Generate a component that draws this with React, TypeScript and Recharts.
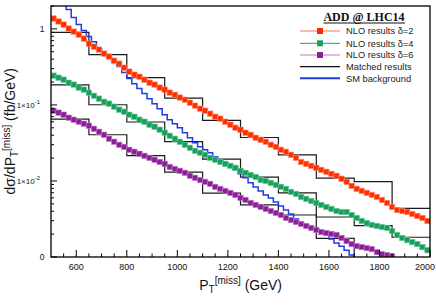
import React from 'react';
import { LineChart, Line, XAxis, YAxis } from 'recharts';

// pT(miss) bin centres, GeV
const ptBins = [
  510, 530, 550, 570, 590, 610, 630, 650, 670, 690, 710, 730, 750, 770, 790,
  810, 830, 850, 870, 890, 910, 930, 950, 970, 990, 1010, 1030, 1050, 1070, 1090,
  1110, 1130, 1150, 1170, 1190, 1210, 1230, 1250, 1270, 1290, 1310, 1330, 1350, 1370, 1390,
  1410, 1430, 1450, 1470, 1490, 1510, 1530, 1550, 1570, 1590, 1610, 1630, 1650, 1670, 1690,
  1710, 1730, 1750, 1770, 1790, 1810, 1830, 1850, 1870, 1890, 1910, 1930, 1950, 1970, 1990,
];

// NLO results, fb/GeV
const nloDelta2 = [
  1.37, 1.25, 1.14, 1.01, 0.921, 0.841, 0.745, 0.64, 0.584, 0.534, 0.473, 0.432, 0.382, 0.349, 0.309,
  0.274, 0.25, 0.235, 0.215, 0.196, 0.185, 0.169, 0.159, 0.145, 0.136, 0.125, 0.117, 0.107, 0.0978, 0.0893,
  0.084, 0.0767, 0.07, 0.0659, 0.0602, 0.0549, 0.0501, 0.0472, 0.0431, 0.0405, 0.037, 0.0348, 0.0328, 0.0299, 0.0281,
  0.0257, 0.0242, 0.0221, 0.0201, 0.0178, 0.0168, 0.0158, 0.0149, 0.014, 0.0132, 0.0124, 0.0117, 0.0107, 0.00973, 0.00862,
  0.00787, 0.0074, 0.00697, 0.00656, 0.00617, 0.00563, 0.00514, 0.00455, 0.00416, 0.00403, 0.00391, 0.00368, 0.00347, 0.00326, 0.00298,
];
const nloDelta4 = [
  0.243, 0.228, 0.215, 0.196, 0.185, 0.169, 0.159, 0.145, 0.132, 0.121, 0.11, 0.104, 0.0949, 0.0866, 0.0815,
  0.0744, 0.07, 0.0639, 0.0602, 0.0549, 0.0517, 0.0472, 0.0431, 0.0393, 0.0359, 0.0328, 0.0299, 0.0273, 0.0249, 0.0235,
  0.0221, 0.0201, 0.019, 0.0178, 0.0168, 0.0158, 0.0149, 0.0136, 0.0128, 0.012, 0.0113, 0.0103, 0.01, 0.00944, 0.00888,
  0.00836, 0.00787, 0.00718, 0.00676, 0.00617, 0.00581, 0.00546, 0.00514, 0.00484, 0.00455, 0.00429, 0.00403, 0.00391, 0.00391, 0.00357,
  0.00326, 0.00298, 0.0028, 0.00264, 0.00256, 0.00248, 0.00241, 0.0022, 0.00195, 0.00178, 0.00167, 0.00157, 0.00148, 0.00135, 0.00123,
];
const nloDelta6 = [
  0.084, 0.0791, 0.0744, 0.0679, 0.0639, 0.0602, 0.0566, 0.0533, 0.0486, 0.0444, 0.0405, 0.0359, 0.0328, 0.0299, 0.0281,
  0.0257, 0.0242, 0.0228, 0.0214, 0.0201, 0.019, 0.0178, 0.0168, 0.0153, 0.0144, 0.0136, 0.0128, 0.0117, 0.011, 0.0103,
  0.00973, 0.00916, 0.00836, 0.00787, 0.0074, 0.00697, 0.00656, 0.00599, 0.00563, 0.00514, 0.00484, 0.00455, 0.00429, 0.00403, 0.0038,
  0.00357, 0.00326, 0.00307, 0.00289, 0.00272, 0.00256, 0.00241, 0.00227, 0.00213, 0.00207, 0.00201, 0.00195, 0.00178, 0.00162, 0.00148,
  0.00139, 0.00135, 0.00131, 0.00127, 0.00116, 0.00109, 0.00106, 0.00103, null, null, null, null, null, null, null,
];
const smBackground = [
  3.29, 2.58, 2.15, 1.8, 1.41, 1.14, 0.95, 0.792, 0.68, 0.55, 0.473, 0.419, 0.371, 0.319, 0.266,
  0.222, 0.19, 0.164, 0.141, 0.121, 0.104, 0.0893, 0.0744, 0.0639, 0.0566, 0.0501, 0.0431, 0.037, 0.0318, 0.0281,
  0.0257, 0.0235, 0.0208, 0.019, 0.0173, 0.0158, 0.014, 0.0124, 0.011, 0.00944, 0.00836, 0.0074, 0.00656, 0.00599, 0.0053,
  0.00469, 0.00416, 0.00368, 0.00317, 0.0028, 0.00264, 0.00248, 0.00234, 0.0022, 0.00195, 0.00172, 0.00153, 0.00139, 0.00123, 0.00106,
  0.0009, null, null, null, null, null, null, null, null, null, null, null, null, null, null,
];

// matched results, 150 GeV bins
const matchedEdges = [500, 650, 800, 950, 1100, 1250, 1400, 1550, 1700, 1850, 2000];
const matchedDelta2 = [0.9, 0.458, 0.228, 0.123, 0.0625, 0.0373, 0.0221, 0.0109, 0.0098, 0.00435];
const matchedDelta4 = [0.184, 0.1006, 0.0596, 0.033, 0.0194, 0.0112, 0.00698, 0.00336, 0.00258, 0.00182];
const matchedDelta6 = [0.0652, 0.0405, 0.0216, 0.0131, 0.0069, 0.00484, 0.00357, 0.00176, 0.0005, 0.0005];

const xTicks = [
  550, 600, 650, 700, 750, 800, 850, 900, 950, 1000, 1050, 1100, 1150, 1200, 1250, 1300,
  1350, 1400, 1450, 1500, 1550, 1600, 1650, 1700, 1750, 1800, 1850, 1900, 1950, 2000,
];
const yMajorTicks = [0.001, 0.01, 0.1, 1];
const yMajorLabels = ['0', '1×10^-2', '1×10^-1', '1'];
const yMinorTicks = [
  0.002, 0.003, 0.004, 0.005, 0.006, 0.007, 0.008, 0.009,
  0.02, 0.03, 0.04, 0.05, 0.06, 0.07, 0.08, 0.09,
  0.2, 0.3, 0.4, 0.5, 0.6, 0.7, 0.8, 0.9, 2,
];

const SANS = '"Liberation Sans", Arial, Helvetica, sans-serif';

const toPoints = (ys: (number | null)[]) => ptBins.map((x, i) => ({ x, y: ys[i] }));
const toSteps = (ys: number[]) =>
  matchedEdges.map((x, i) => ({ x, y: ys[Math.min(i, ys.length - 1)] }));

const squareDot = (fill: string, edge: string) => (props: any) => {
  const { cx, cy, index } = props;
  if (cx == null || cy == null || Number.isNaN(cy) || props.payload?.y == null) return <g key={`d${index}`} />;
  return (
    <rect key={`d${index}`} x={cx - 2.7} y={cy - 2.7} width={5.4} height={5.4} fill={fill} stroke={edge} strokeWidth={0.6} />
  );
};

const XTick = (props: any) => {
  const { x, y, payload } = props;
  const major = payload.value % 200 === 0;
  const last = payload.value === 2000;
  return (
    <g>
      <line x1={x} x2={x} y1={y} y2={y - (major ? 7 : 3.5)} stroke="#000" strokeWidth={1} />
      {major && (
        <text
          x={last ? 435 : x}
          y={y + 13}
          textAnchor={last ? 'end' : 'middle'}
          fontSize={9}
          fontFamily={SANS}
          fill="#111"
        >
          {payload.value}
        </text>
      )}
    </g>
  );
};

const YTick = (props: any) => {
  const { x, y, payload } = props;
  const idx = yMajorTicks.indexOf(payload.value);
  const major = idx >= 0;
  let label: React.ReactNode = null;
  if (major) {
    const [base, exp] = yMajorLabels[idx].split('^');
    label = exp ? (
      <text x={x - 11} y={y + 3} textAnchor="end" fontSize={8} fontFamily={SANS} fill="#111">
        {base}
        <tspan dy={-3.5} fontSize={6}>{exp}</tspan>
      </text>
    ) : (
      <text x={x - 6.5} y={y + 3} textAnchor="end" fontSize={8.5} fontFamily={SANS} fill="#111">
        {base}
      </text>
    );
  }
  return (
    <g>
      <line x1={x} x2={x + (major ? 6 : 3)} y1={y} y2={y} stroke="#000" strokeWidth={1} />
      {label}
    </g>
  );
};

const legendRows = [
  { label: 'NLO results δ=2', line: '#f6a28c', square: '#ff2a00', width: 1.5 },
  { label: 'NLO results δ=4', line: '#3dbd7d', square: '#15a05c', width: 1.2 },
  { label: 'NLO results δ=6', line: '#d7a3d7', square: '#8c1e99', width: 1.5 },
  { label: 'Matched results', line: '#111', square: null, width: 1.2 },
  { label: 'SM background', line: '#1d3de8', square: null, width: 2 },
];
const legendY = [31, 43.3, 55, 66.7, 78.3];

export default function App() {
  return (
    <div style={{ position: 'absolute', left: 0, top: 0, width: 436, height: 308, background: '#fff' }}>
      <LineChart width={436} height={308} margin={{ top: 6, right: 6, bottom: 0, left: 0 }}>
        <XAxis
          type="number"
          dataKey="x"
          domain={[500, 2000]}
          ticks={xTicks}
          interval={0}
          height={51}
          tickSize={0}
          tickMargin={0}
          tickLine={false}
          axisLine={false}
          tick={XTick}
          allowDataOverflow
        />
        <YAxis
          type="number"
          scale="log"
          domain={[0.001, 2]}
          ticks={[...yMajorTicks, ...yMinorTicks]}
          interval={0}
          width={51}
          tickSize={0}
          tickMargin={0}
          tickLine={false}
          axisLine={false}
          tick={YTick}
          allowDataOverflow
        />
        <Line data={toPoints(nloDelta2)} dataKey="y" stroke="#f6a28c" strokeWidth={1} dot={squareDot('#ff3000', '#ff8a70')} isAnimationActive={false} />
        <Line data={toPoints(nloDelta4)} dataKey="y" stroke="#3dbd7d" strokeWidth={1} dot={squareDot('#17a05c', '#70c99c')} isAnimationActive={false} />
        <Line data={toPoints(nloDelta6)} dataKey="y" stroke="#d7a3d7" strokeWidth={1} dot={squareDot('#8c1e99', '#c080c8')} isAnimationActive={false} />
        <Line data={toSteps(matchedDelta2)} dataKey="y" type="stepAfter" stroke="#1a1a1a" strokeWidth={1.2} dot={false} isAnimationActive={false} />
        <Line data={toSteps(matchedDelta4)} dataKey="y" type="stepAfter" stroke="#1a1a1a" strokeWidth={1.2} dot={false} isAnimationActive={false} />
        <Line data={toSteps(matchedDelta6)} dataKey="y" type="stepAfter" stroke="#1a1a1a" strokeWidth={1.2} dot={false} isAnimationActive={false} />
        <Line data={toPoints(smBackground)} dataKey="y" type="step" stroke="#1d3de8" strokeWidth={1.5} dot={false} isAnimationActive={false} />
      </LineChart>

      <svg width={436} height={308} style={{ position: 'absolute', left: 0, top: 0, pointerEvents: 'none' }}>
        <rect x={51} y={6} width={379} height={251} fill="none" stroke="#000" strokeWidth={1.3} />

        <text x={364} y={21} textAnchor="middle" fontSize={12} fontWeight="bold" fontFamily='"Liberation Serif", "Times New Roman", serif' fill="#111">
          ADD @ LHC14
        </text>
        <line x1={323.5} x2={405} y1={23} y2={23} stroke="#111" strokeWidth={1} />

        {legendRows.map((r, i) => (
          <g key={r.label}>
            <line x1={300} x2={340} y1={legendY[i]} y2={legendY[i]} stroke={r.line} strokeWidth={r.width} />
            {r.square && <rect x={317} y={legendY[i] - 3} width={6} height={6} fill={r.square} />}
            <text x={346} y={legendY[i] + 3.3} fontSize={9.3} fontFamily={SANS} fill="#222">
              {r.label}
            </text>
          </g>
        ))}

        <text transform="translate(15,68) rotate(-90)" textAnchor="end" fontSize={14} fontFamily={SANS} fill="#111">
          dσ/dP
          <tspan dy={3} fontSize={10}>T</tspan>
          <tspan dy={-8} fontSize={10}>[miss]</tspan>
          <tspan dy={5}> (fb/GeV)</tspan>
        </text>

        <text x={282} y={290} textAnchor="end" fontSize={14} fontFamily={SANS} fill="#111">
          P
          <tspan dy={3} fontSize={10}>T</tspan>
          <tspan dy={-9} fontSize={10}>[miss]</tspan>
          <tspan dy={6}> (GeV)</tspan>
        </text>
      </svg>
    </div>
  );
}
